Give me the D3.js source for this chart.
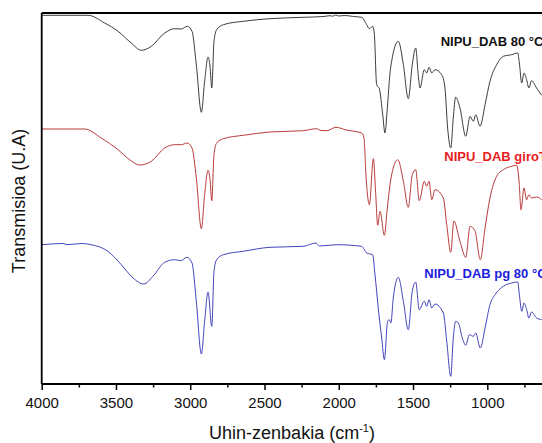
<!DOCTYPE html>
<html>
<head>
<meta charset="utf-8">
<script src="https://cdn.jsdelivr.net/npm/d3@7"></script>
<style>
body { margin: 0; background: #fff; }
text { font-family: Arial, "Liberation Sans", sans-serif; }
</style>
</head>
<body>
<div id="chart"></div>
<script>
// wavenumbers (cm-1) and transmittance (arbitrary units, already offset per trace)
let wn80 = [4000, 3850, 3688, 3576, 3486, 3397, 3329, 3262, 3172, 3105, 3060, 3020, 2988, 2959, 2925, 2903, 2880, 2867, 2855, 2840, 2822, 2777, 2643, 2463, 2239, 2100, 2060, 2040, 2020, 2000, 1960, 1900, 1846, 1812, 1794, 1772, 1761, 1745, 1727, 1704, 1689, 1673, 1655, 1644, 1599, 1565, 1532, 1505, 1482, 1465, 1453, 1424, 1408, 1392, 1374, 1352, 1307, 1285, 1267, 1246, 1229, 1213, 1184, 1145, 1116, 1094, 1078, 1049, 1015, 982, 937, 892, 836, 795, 784, 768, 753, 735, 720, 702, 668, 634];
let t80 = [368.7, 368.7, 368.7, 361, 352.7, 341, 333.7, 337.7, 351, 355.3, 355, 357.7, 352.7, 319.3, 271.7, 302.7, 327, 318, 296, 342.7, 354.3, 359.3, 362.7, 365.3, 366.7, 367.5, 368.3, 367.8, 369, 368, 368.5, 367.5, 366.7, 359.3, 355.3, 357.7, 351, 299.3, 295.3, 269.3, 251, 276, 311, 322.7, 342.7, 319.3, 285.3, 319.3, 336, 309.3, 296, 314.3, 311, 316.7, 311, 314.3, 309.3, 296, 256, 236, 266, 286.7, 276, 247.7, 267.7, 262.7, 269.3, 257.7, 279.3, 302.7, 319.3, 327.7, 329.3, 331, 321, 301, 311, 304.3, 296, 303.3, 296, 288.7];

let wnGiro = [4000, 3711, 3599, 3486, 3408, 3340, 3262, 3172, 3105, 3060, 3022, 2988, 2959, 2925, 2903, 2880, 2867, 2855, 2840, 2822, 2777, 2643, 2463, 2239, 2149, 2120, 2081, 2019, 1950, 1846, 1830, 1817, 1794, 1767, 1751, 1738, 1722, 1693, 1673, 1655, 1633, 1603, 1565, 1532, 1505, 1482, 1458, 1424, 1408, 1392, 1374, 1352, 1296, 1273, 1246, 1225, 1184, 1145, 1116, 1083, 1047, 1015, 982, 937, 892, 836, 802, 786, 773, 753, 735, 720, 702, 668, 634];
let tGiro = [255, 255, 246, 234.3, 224.3, 219, 222.7, 236, 239.3, 239.3, 241, 236, 206, 155.3, 189.3, 213.7, 205, 183.3, 229.3, 241, 245.3, 248.7, 252, 253.3, 255.3, 253.5, 253.3, 256.7, 254, 251, 246, 209.3, 179.3, 225.3, 189.3, 158.7, 172.7, 148.7, 176, 199.3, 216, 224.3, 202.7, 176.7, 209.3, 214.3, 183.3, 202.7, 197.7, 202.7, 184.3, 194.3, 186, 159.3, 131.7, 163, 142.7, 126.7, 157.7, 153.3, 124.3, 156, 186, 207.7, 214.3, 217.7, 218.7, 202.7, 174.3, 196, 184.3, 189.3, 186, 187, 184.3];

let wnPg = [4000, 3857, 3830, 3733, 3666, 3554, 3464, 3385, 3313, 3251, 3172, 3105, 3064, 3022, 2988, 2959, 2925, 2903, 2880, 2855, 2840, 2822, 2777, 2643, 2463, 2239, 2153, 2130, 2014, 1846, 1812, 1772, 1756, 1734, 1711, 1693, 1671, 1660, 1649, 1633, 1599, 1565, 1532, 1505, 1482, 1458, 1424, 1408, 1392, 1374, 1352, 1296, 1273, 1246, 1229, 1213, 1195, 1168, 1145, 1121, 1094, 1078, 1047, 1015, 982, 948, 892, 836, 795, 784, 768, 753, 735, 720, 702, 668, 634];
let tPg = [139.3, 140.5, 139.3, 140.5, 139.3, 132.7, 119.3, 106, 100, 107.7, 121.7, 124.3, 123.3, 126.7, 121, 82.7, 30, 62.7, 92, 57.7, 112.7, 124.3, 129.3, 132.7, 136.7, 137.7, 141, 138, 139.3, 137.7, 131, 129.3, 109.3, 76, 46, 24.3, 62.7, 64.3, 61, 86, 106.7, 82.7, 54.3, 92.7, 102, 74.3, 82.7, 77.7, 84.3, 76, 80, 71, 42.7, 7.7, 46, 62.7, 61, 46, 38.7, 49.3, 47.7, 51, 36, 56, 79.3, 89.3, 97.7, 101, 102, 89.3, 72.7, 81, 74.3, 66, 72, 66, 64.3];

let seriesNames = ["NIPU_DAB 80 °C", "NIPU_DAB giroT", "NIPU_DAB pg 80 °C"];
let majorTicks = [4000, 3500, 3000, 2500, 2000, 1500, 1000];
let minorTicks = [3750, 3250, 2750, 2250, 1750, 1250, 750];

let margin = {top: 13, left: 41.7, bottom: 59};
let width = 542, height = 443;

let svg = d3.select("#chart")
    .append("svg")
    .attr("width", width)
    .attr("height", height);

let xScale = d3.scaleLinear().domain([4000, 600]).range([margin.left, margin.left + 3400 * 0.14853]);
let yScale = d3.scaleLinear().domain([0, 371]).range([height - margin.bottom, margin.top]);

svg.append("clipPath")
    .attr("id", "plotclip")
    .append("rect")
    .attr("x", margin.left)
    .attr("y", margin.top - 2)
    .attr("width", width - margin.left)
    .attr("height", height - margin.bottom - margin.top + 4);

let line = d3.line()
    .x(d => xScale(d[0]))
    .y(d => yScale(d[1]))
    .curve(d3.curveMonotoneX);

let traces = [
    {wn: wn80, t: t80, color: "#3c3c3c"},
    {wn: wnGiro, t: tGiro, color: "#b83b3b"},
    {wn: wnPg, t: tPg, color: "#4343bb"}
];

svg.append("g")
    .attr("clip-path", "url(#plotclip)")
    .selectAll("path")
    .data(traces)
    .enter()
    .append("path")
    .attr("d", d => line(d.wn.map((w, i) => [w, d.t[i]])))
    .attr("fill", "none")
    .attr("stroke", d => d.color)
    .attr("stroke-width", 1);

// frame: left and top lines
svg.append("line")
    .attr("x1", margin.left).attr("x2", margin.left)
    .attr("y1", margin.top).attr("y2", height - margin.bottom)
    .attr("stroke", "#000").attr("stroke-width", 1.8);
svg.append("line")
    .attr("x1", margin.left).attr("x2", width)
    .attr("y1", margin.top).attr("y2", margin.top)
    .attr("stroke", "#000").attr("stroke-width", 1.8);

let xAxis = d3.axisBottom(xScale)
    .tickValues(majorTicks)
    .tickSize(6)
    .tickSizeOuter(0)
    .tickPadding(7.5)
    .tickFormat(d3.format("d"));

let xMinor = d3.axisBottom(xScale)
    .tickValues(minorTicks)
    .tickSize(3.5)
    .tickSizeOuter(0)
    .tickFormat("");

let gx = svg.append("g")
    .attr("transform", "translate(0," + (height - margin.bottom) + ")")
    .call(xAxis);
gx.select(".domain").attr("d", "M" + margin.left + ",0H" + width).attr("stroke-width", 1.8);
gx.selectAll(".tick line").attr("stroke-width", 1.5);
gx.selectAll(".tick text").attr("font-size", 15).attr("fill", "#111")
    .style("font-family", "Arial, 'Liberation Sans', sans-serif");

let gm = svg.append("g")
    .attr("transform", "translate(0," + (height - margin.bottom) + ")")
    .call(xMinor);
gm.select(".domain").remove();
gm.selectAll(".tick line").attr("stroke-width", 1.5);

// axis titles
let xt = svg.append("text")
    .attr("x", 292)
    .attr("y", 439)
    .attr("text-anchor", "middle")
    .attr("font-size", 18)
    .attr("fill", "#111");
xt.append("tspan").text("Uhin-zenbakia (cm");
xt.append("tspan").text("-1").attr("font-size", 11).attr("dy", -7);
xt.append("tspan").text(")").attr("dy", 7);

svg.append("text")
    .attr("transform", "translate(24.5,201) rotate(-90)")
    .attr("text-anchor", "middle")
    .attr("font-size", 18)
    .attr("fill", "#111")
    .text("Transmisioa (U.A)");

// series labels
let labelX = [440.7, 444.3, 424.3];
let labelY = [46, 161, 278];
let labelColor = ["#111111", "#e8201c", "#1c1cdc"];

svg.selectAll(".serieslabel")
    .data(seriesNames)
    .enter()
    .append("text")
    .attr("class", "serieslabel")
    .attr("x", (d, i) => labelX[i])
    .attr("y", (d, i) => labelY[i])
    .attr("font-size", 13)
    .attr("font-weight", "bold")
    .attr("fill", (d, i) => labelColor[i])
    .text(d => d);
</script>
</body>
</html>
